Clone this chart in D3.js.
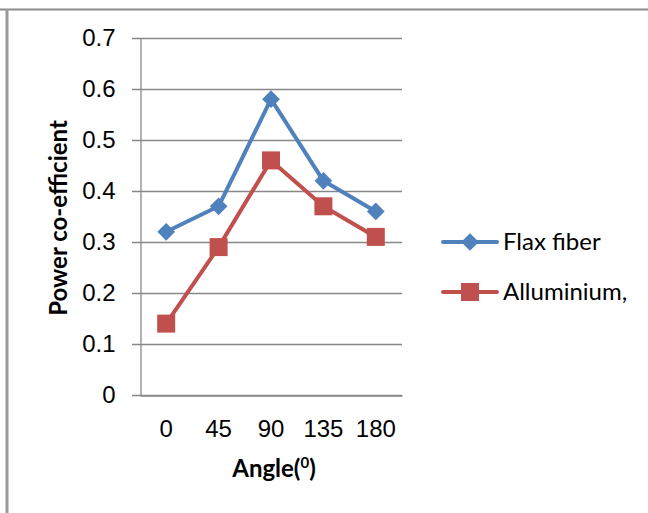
<!DOCTYPE html>
<html>
<head>
<meta charset="utf-8">
<script src="https://cdn.jsdelivr.net/npm/d3@7"></script>
<style>
  html, body { margin: 0; padding: 0; background: #fff; }
  svg { display: block; font-family: Lato, "Open Sans", "Liberation Sans", sans-serif; }
</style>
</head>
<body>
<svg id="chart" width="648" height="513"></svg>
<script>
// Power coefficient versus blade angle for two blade materials
const angles = ["0", "45", "90", "135", "180"];
const flaxFiber = [0.32, 0.37, 0.58, 0.42, 0.36];
const aluminium = [0.14, 0.29, 0.46, 0.37, 0.31];
const yTicks = [0, 0.1, 0.2, 0.3, 0.4, 0.5, 0.6, 0.7];
const seriesNames = ["Flax fiber", "Alluminium,"];

const svg = d3.select("#chart");
const plot = { left: 140, right: 402, top: 38, bottom: 395 };
const blue = "#4F81BD", red = "#C0504D", grid = "#888888";
const fs = 24;

// outer frame (top and left edges)
svg.append("line").attr("x1", 0).attr("x2", 648).attr("y1", 9.5).attr("y2", 9.5)
  .attr("stroke", "#8c8c8c").attr("stroke-width", 2);
svg.append("line").attr("x1", 7).attr("x2", 7).attr("y1", 9).attr("y2", 513)
  .attr("stroke", "#9a9a9a").attr("stroke-width", 3);

const x = d3.scaleBand().domain(angles).range([plot.left, plot.right]);
const y = d3.scaleLinear().domain([0, 0.7]).range([plot.bottom, plot.top]);

// horizontal gridlines
svg.append("g").selectAll("line").data(yTicks).join("line")
  .attr("x1", plot.left - 8).attr("x2", plot.right)
  .attr("y1", d => Math.round(y(d)) + 0.5).attr("y2", d => Math.round(y(d)) + 0.5)
  .attr("stroke", grid).attr("stroke-width", 1.3);

// value axis
const yAxis = svg.append("g").attr("transform", `translate(${plot.left + 0.5},0)`)
  .call(d3.axisLeft(y).tickValues(yTicks).tickFormat(d => d === 0 ? "0" : d3.format(".1f")(d))
    .tickSize(0).tickPadding(25));
yAxis.select(".domain").attr("stroke", grid).attr("stroke-width", 1.3);
yAxis.selectAll("text").attr("font-size", fs).attr("fill", "#000");

// category axis
const xAxis = svg.append("g").attr("transform", `translate(0,${plot.bottom + 0.5})`)
  .call(d3.axisBottom(x).tickSize(0).tickPadding(24));
xAxis.select(".domain").attr("stroke", grid).attr("stroke-width", 1.3);
xAxis.selectAll("text").attr("font-size", fs).attr("fill", "#000");

// axis titles
svg.append("text").attr("x", (plot.left + plot.right) / 2 + 3).attr("y", 477)
  .attr("text-anchor", "middle").attr("font-size", 24).attr("font-weight", "bold")
  .html('Angle(<tspan dy="-9" font-size="15">0</tspan><tspan dy="9">)</tspan>');
svg.append("text").attr("transform", "translate(67,218) rotate(-90)")
  .attr("text-anchor", "middle").attr("font-size", 24).attr("font-weight", "bold")
  .text("Power co-efficient");

const line = d3.line().x((d, i) => x(angles[i]) + x.bandwidth() / 2).y(d => y(d));
const diamond = d3.symbol().type(d3.symbolDiamond2).size(200);

function drawSeries(values, color, markerFn) {
  const g = svg.append("g");
  g.append("path").datum(values).attr("d", line).attr("fill", "none")
    .attr("stroke", color).attr("stroke-width", 4).attr("stroke-linejoin", "round");
  g.selectAll(".m").data(values).join("g")
    .attr("transform", (d, i) => `translate(${x(angles[i]) + x.bandwidth() / 2},${y(d)})`)
    .each(function () { markerFn(d3.select(this), color); });
}
const drawDiamond = (sel, c) => sel.append("path").attr("d", diamond()).attr("fill", c);
const drawSquare = (sel, c) => sel.append("rect").attr("x", -9).attr("y", -9)
  .attr("width", 18).attr("height", 18).attr("fill", c);

drawSeries(flaxFiber, blue, drawDiamond);
drawSeries(aluminium, red, drawSquare);

// legend
const legend = svg.append("g");
[[blue, drawDiamond], [red, drawSquare]].forEach(([c, fn], i) => {
  const ly = 242 + i * 50;
  const g = legend.append("g").attr("transform", `translate(0,${ly})`);
  g.append("line").attr("x1", 443).attr("x2", 497).attr("stroke", c).attr("stroke-width", 4)
    .attr("stroke-linecap", "round");
  fn(g.append("g").attr("transform", "translate(470,0)"), c);
  g.append("text").attr("x", 503).attr("y", 8).attr("font-size", fs).text(seriesNames[i]);
});
</script>
</body>
</html>
